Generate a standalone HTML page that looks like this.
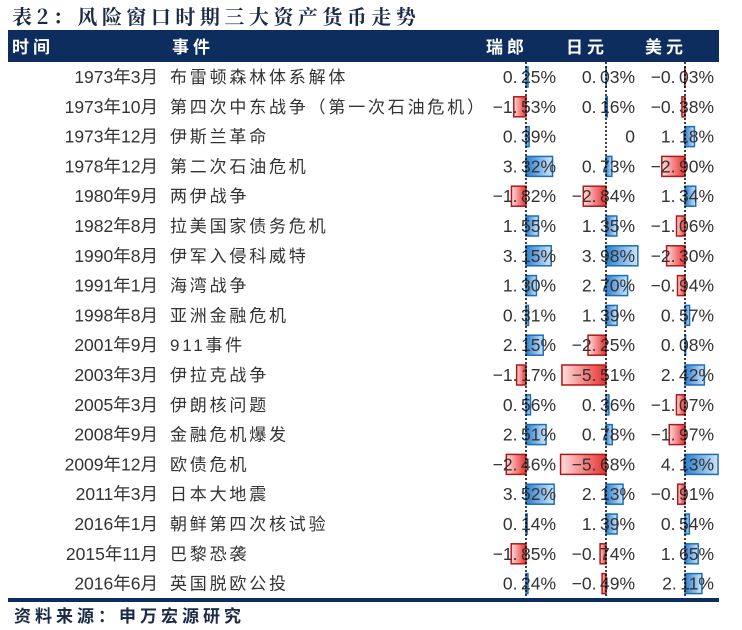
<!DOCTYPE html>
<html><head><meta charset="utf-8"><style>
body{margin:0;background:#fff;width:742px;height:630px;overflow:hidden}
svg{display:block}
text{font-family:"Liberation Sans","Noto Sans CJK SC",sans-serif}
</style></head><body>
<svg id="chart" width="742" height="630">
<defs>
<linearGradient id="gr" x1="0" x2="1"><stop offset="0" stop-color="#fdd"/><stop offset="1" stop-color="#e83030"/></linearGradient>
<linearGradient id="gb" x1="0" x2="1"><stop offset="0" stop-color="#2a7fd0"/><stop offset="1" stop-color="#cfe6fb"/></linearGradient>
</defs>
<text x="12" y="24" font-size="20" font-weight="bold" fill="#1b2a48" letter-spacing="4.5" style='font-family:"Noto Serif CJK SC","Liberation Serif",serif'>表2：风险窗口时期三大资产货币走势</text>
<rect x="8" y="30" width="711" height="32" fill="#0c2d5e"/>
<g fill="#fff" font-size="17" font-weight="bold" letter-spacing="4">
<text x="12" y="53">时间</text>
<text x="172" y="53">事件</text>
<text x="486" y="53">瑞郎</text>
<text x="566" y="53">日元</text>
<text x="645" y="53">美元</text>
</g>
<g id="rows"></g>
<rect x="8" y="598" width="711" height="4" fill="#0c2d5e"/>
<text x="14" y="622" font-size="17" font-weight="bold" fill="#1b2a48" letter-spacing="4">资料来源：申万宏源研究</text>
</svg>
<script>
const dates=["1973年3月","1973年10月","1973年12月","1978年12月","1980年9月","1982年8月","1990年8月","1991年1月","1998年8月","2001年9月","2003年3月","2005年3月","2008年9月","2009年12月","2011年3月","2016年1月","2015年11月","2016年6月"];
const events=["布雷顿森林体系解体","第四次中东战争（第一次石油危机）","伊斯兰革命","第二次石油危机","两伊战争","拉美国家债务危机","伊军入侵科威特","海湾战争","亚洲金融危机","911事件","伊拉克战争","伊朗核问题","金融危机爆发","欧债危机","日本大地震","朝鲜第四次核试验","巴黎恐袭","英国脱欧公投"];
const chf=[0.25,-1.53,0.39,3.32,-1.82,1.55,3.15,1.30,0.31,2.15,-1.17,0.56,2.51,-2.46,3.52,0.14,-1.85,0.24];
const jpy=[0.03,0.16,0,0.73,-2.84,1.35,3.98,2.70,1.39,-2.25,-5.51,0.36,0.78,-5.68,2.13,1.39,-0.74,-0.49];
const usd=[-0.03,-0.38,1.18,-2.90,1.34,-1.06,-2.30,-0.94,0.57,0.08,2.42,-1.07,-1.97,4.13,-0.91,0.54,1.65,2.11];
const NS="http://www.w3.org/2000/svg";
const g=document.getElementById('rows');
const rowY=i=>77+i*29.8;
const scale=v=>v*8;
const cols=[{d:chf,ax:526,tx:556,n:'chf'},{d:jpy,ax:606,tx:635,n:'jpy'},{d:usd,ax:685,tx:714,n:'usd'}];
function mk(t,a){const e=document.createElementNS(NS,t);for(const k in a)e.setAttribute(k,a[k]);g.appendChild(e);return e;}
dates.forEach((d,i)=>{
  const y=rowY(i);
  let t=mk('text',{x:158,y:y+6,'font-size':17.5,fill:'#333','text-anchor':'end'});t.textContent=d;
  
  
  t=mk('text',{x:170,y:y+6,'font-size':17,fill:'#333','letter-spacing':2.8});t.textContent=events[i];
  
  
});
cols.forEach(c=>{
  c.d.forEach((v,i)=>{
    const y=rowY(i);const w=Math.abs(scale(v));
    if(w>0){
      const r=mk('rect',{x:v<0?c.ax-w:c.ax,y:y-10,width:w,height:20,fill:v<0?'url(#gr)':'url(#gb)',stroke:v<0?'#b01818':'#1a6fb8','stroke-width':1.5});
      
      
    }
    const s=v===0?'0':(v<0?'−':'')+Math.abs(v).toFixed(2).replace('.','.\u2009')+'%';
    const t=mk('text',{x:c.tx,y:y+6,'font-size':17.5,fill:'#333','text-anchor':'end'});t.textContent=s;
    
    
  });
  const l=mk('line',{x1:c.ax,y1:62,x2:c.ax,y2:598,stroke:'#000','stroke-width':1.5,'stroke-dasharray':'2,2'});
  
  
});
</script>
</body></html>
